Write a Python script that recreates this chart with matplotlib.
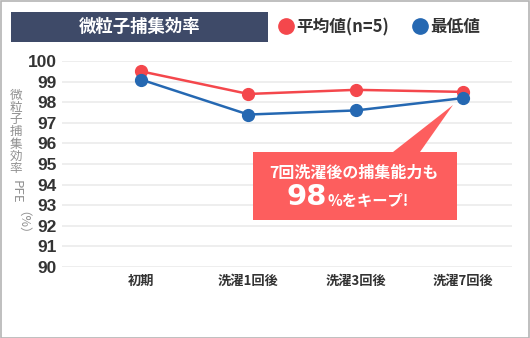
import matplotlib.pyplot as plt
from matplotlib.lines import Line2D
from matplotlib.patches import Polygon, Rectangle

plt.rcParams['font.family'] = ['Noto Sans CJK JP', 'DejaVu Sans']

# data
categories = ['初期', '洗濯1回後', '洗濯3回後', '洗濯7回後']
avg_vals = [99.5, 98.4, 98.6, 98.5]
min_vals = [99.1, 97.4, 97.6, 98.2]
yticks = list(range(90, 101))

RED = '#f4474c'
BLUE = '#2568b2'
W, H = 530, 338

def fx(px):
    return px / W

def fy(py):
    return 1 - py / H

fig = plt.figure(figsize=(5.3, 3.38), dpi=100)
fig.patch.set_facecolor('white')

# outer frame
fig.patches.append(Rectangle((0.001, 0.001), 0.997, 0.996, transform=fig.transFigure,
                             fill=False, edgecolor='#b4b4b4', linewidth=1.2))

ax = fig.add_axes([fx(62), fy(267), fx(512) - fx(62), fy(61) - fy(267)])
x = list(range(len(categories)))
ax.plot(x, avg_vals, color=RED, linewidth=1.8, marker='o', markersize=8.5, clip_on=False, zorder=3)
ax.plot(x, min_vals, color=BLUE, linewidth=1.8, marker='o', markersize=8.5, clip_on=False, zorder=4)

ax.set_xlim(-0.735, 3.455)
ax.set_ylim(90, 100)
ax.set_yticks(yticks)
ax.set_yticklabels([str(t) for t in yticks], fontsize=12.5, fontweight='bold', color='#333333',
                   family='Liberation Sans')
ax.set_xticks(x)
ax.set_xticklabels(categories, fontsize=9.5, fontweight='bold', color='#333333')
ax.tick_params(axis='both', length=0)
ax.tick_params(axis='y', pad=4)
ax.tick_params(axis='x', pad=5)
ax.grid(axis='y', color='#ebebeb', linewidth=1.2)
ax.set_axisbelow(True)
for s in ax.spines.values():
    s.set_visible(False)

# title box
fig.patches.append(Rectangle((fx(11), fy(42)), fx(268) - fx(11), fy(12) - fy(42),
                             transform=fig.transFigure, facecolor='#3e4a68', edgecolor='none'))
fig.text(fx(140), fy(27), '微粒子捕集効率', color='white', fontsize=12.5, fontweight='bold',
         ha='center', va='center')

# legend
handles = [Line2D([], [], color=RED, marker='o', linestyle='none', markersize=11),
           Line2D([], [], color=BLUE, marker='o', linestyle='none', markersize=11)]
fig.legend(handles, ['平均値(n=5)', '最低値'], loc='center left',
           bbox_to_anchor=(fx(276), fy(27)), ncol=2, frameon=False, handletextpad=0.0,
           columnspacing=1.3, handlelength=1.2, borderpad=0, borderaxespad=0,
           prop={'size': 12, 'weight': 'bold'}, labelcolor='#333333')

# y label (vertical text)
ylabel_chars = list('微粒子捕集効率')
for i, ch in enumerate(ylabel_chars):
    fig.text(fx(16), fy(95 + i * 12.3), ch, fontsize=9, color='#909090',
             ha='center', va='center')
fig.text(fx(16), fy(192), 'PFE', fontsize=9.5, color='#909090', ha='center', va='center',
         rotation=-90)
fig.text(fx(16), fy(229), '（%）', fontsize=9, color='#909090', ha='center', va='center',
         rotation=-90)

# callout
CALL = '#fd5e5e'
pts = [(253, 152), (393, 152), (453, 105), (420, 152), (457, 152), (457, 220), (253, 220)]
fig.patches.append(Polygon([(fx(a), fy(b)) for a, b in pts], closed=True,
                           transform=fig.transFigure, facecolor=CALL, edgecolor='none', zorder=5))
fig.text(fx(354), fy(173), '7回洗濯後の捕集能力も', color='white', fontsize=11.5, fontweight='bold',
         ha='center', va='center', zorder=6)
fig.text(fx(327), fy(205), '98', color='white', fontsize=21, fontweight='bold',
         ha='right', va='baseline', zorder=6, family='DejaVu Sans')
fig.text(fx(328), fy(205), '%をキープ!', color='white', fontsize=11, fontweight='bold',
         ha='left', va='baseline', zorder=6)

fig.savefig('out.png', dpi=100)
